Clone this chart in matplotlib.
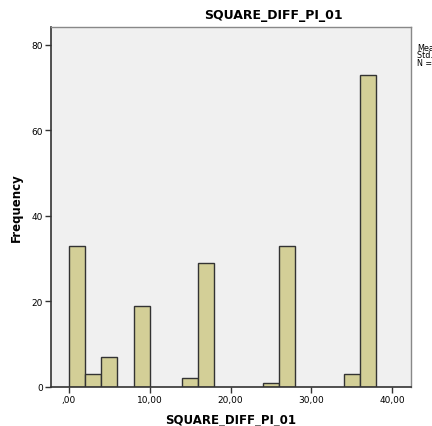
import numpy as np
import matplotlib.pyplot as plt

bin_left = [0, 2, 4, 8, 14, 16, 24, 26, 34, 36]
counts = [33, 3, 7, 19, 2, 29, 1, 33, 3, 73]
bin_width = 2
xticks = [0, 10, 20, 30, 40]
xtick_labels = [',00', '10,00', '20,00', '30,00', '40,00']
yticks = [0, 20, 40, 60, 80]

fig = plt.figure(figsize=(4.32, 4.27), dpi=100)
ax = fig.add_axes([51/432, 1 - 388/427, 360/432, 360/427])
ax.set_facecolor('#f0f0f0')

ax.bar(bin_left, counts, width=bin_width, align='edge',
       color='#d3cf97', edgecolor='#333333', linewidth=1.0)

ax.set_xlim(-2.2, 42.3)
ax.set_ylim(0, 84.2)
ax.set_xticks(xticks)
ax.set_xticklabels(xtick_labels)
ax.set_yticks(yticks)
ax.tick_params(direction='out', length=4, width=1, labelsize=6.5, color='#333333', pad=2)

for side in ['top', 'right']:
    ax.spines[side].set_color('#888888')
    ax.spines[side].set_linewidth(1)
for side in ['left', 'bottom']:
    ax.spines[side].set_color('#333333')
    ax.spines[side].set_linewidth(1.2)

ax.set_xlabel('SQUARE_DIFF_PI_01', fontsize=8.5, fontweight='bold', labelpad=6)
ax.set_ylabel('Frequency', fontsize=8.5, fontweight='bold', labelpad=6)
fig.text(273/432, 1 - 15/427, 'SQUARE_DIFF_PI_01', fontsize=9, fontweight='bold',
         ha='center', va='center')

# stats box sits partly outside the image, as in the original export
fig.text(417/432, 1 - 56/427, 'Mean\nStd. Dev.\nN =', fontsize=5.8,
         ha='left', va='center', linespacing=0.85)

fig.savefig('out.png', dpi=100)
